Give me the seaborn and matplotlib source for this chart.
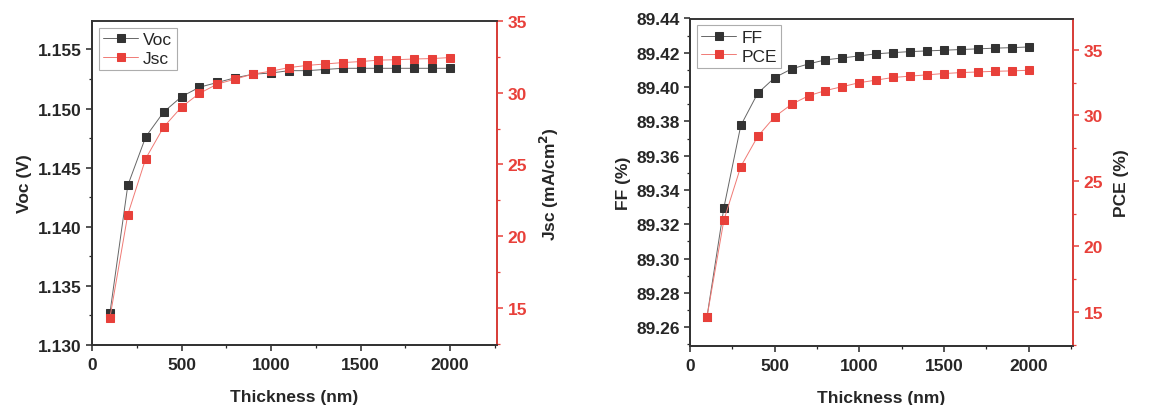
import matplotlib
matplotlib.use("Agg")
import matplotlib.pyplot as plt
import seaborn as sns
import pandas as pd
from matplotlib.ticker import AutoMinorLocator, MultipleLocator

thickness = [100, 200, 300, 400, 500, 600, 700, 800, 900, 1000,
             1100, 1200, 1300, 1400, 1500, 1600, 1700, 1800, 1900, 2000]
voc = [1.1327, 1.1435, 1.1476, 1.1497, 1.1510, 1.1518, 1.1522, 1.1526, 1.1529, 1.1530,
       1.1532, 1.1532, 1.1533, 1.1534, 1.1534, 1.1534, 1.1534, 1.1534, 1.1534, 1.1534]
jsc = [14.3, 21.5, 25.4, 27.6, 29.0, 29.95, 30.6, 30.95, 31.3, 31.5,
       31.75, 31.9, 32.0, 32.1, 32.17, 32.27, 32.3, 32.35, 32.38, 32.45]
ff = [89.2658, 89.3296, 89.3776, 89.3964, 89.4055, 89.4106, 89.4135, 89.4159, 89.4170, 89.4182,
      89.4194, 89.4201, 89.4207, 89.4211, 89.4215, 89.4219, 89.4223, 89.4227, 89.4230, 89.4234]
pce = [14.6, 22.0, 26.1, 28.4, 29.9, 30.85, 31.5, 31.9, 32.2, 32.5,
       32.7, 32.9, 33.0, 33.1, 33.2, 33.27, 33.32, 33.37, 33.4, 33.45]

df = pd.DataFrame({"Thickness": thickness, "Voc": voc, "Jsc": jsc, "FF": ff, "PCE": pce})

sns.set_theme(style="ticks")
plt.rcParams["font.family"] = ["Liberation Sans", "DejaVu Sans"]
plt.rcParams["font.weight"] = "bold"
plt.rcParams["xtick.direction"] = "out"
plt.rcParams["ytick.direction"] = "out"

BLACK = "#333333"
RED = "#e8403a"
FS = 12.5

fig = plt.figure(figsize=(11.56, 4.06), dpi=100)


def panel(rect, left_col, right_col, left_label, right_label, ylim_l, ylim_r,
          lstep, lfmt, rticks):
    ax = fig.add_axes(rect)
    ax2 = ax.twinx()
    sns.lineplot(data=df, x="Thickness", y=left_col, ax=ax, color=BLACK,
                 marker="s", markersize=6, markeredgecolor=BLACK,
                 markerfacecolor=BLACK, lw=0.7, alpha=1.0,
                 label=left_col, legend=False)
    sns.lineplot(data=df, x="Thickness", y=right_col, ax=ax2, color=RED,
                 marker="s", markersize=6, markeredgecolor=RED,
                 markerfacecolor=RED, lw=0.7,
                 label=right_col, legend=False)
    for line in ax.lines + ax2.lines:
        line.set_color(line.get_color())
    ax.lines[0].set_color("#666666")
    ax.lines[0].set_markerfacecolor(BLACK)
    ax.lines[0].set_markeredgecolor(BLACK)
    ax2.lines[0].set_color("#f07a75")
    ax2.lines[0].set_markerfacecolor(RED)
    ax2.lines[0].set_markeredgecolor(RED)

    ax.set_xlim(0, 2262)
    ax.set_ylim(*ylim_l)
    ax2.set_ylim(*ylim_r)
    ax.xaxis.set_major_locator(MultipleLocator(500))
    ax.xaxis.set_minor_locator(AutoMinorLocator(2))
    ax.yaxis.set_major_locator(MultipleLocator(lstep))
    ax.yaxis.set_minor_locator(AutoMinorLocator(2))
    ax2.set_yticks(rticks)
    ax2.yaxis.set_minor_locator(AutoMinorLocator(2))
    ax.yaxis.set_major_formatter(lfmt)

    ax.set_xlabel("Thickness (nm)", fontsize=FS, fontweight="bold", labelpad=12)
    ax.set_ylabel(left_label, fontsize=FS, fontweight="bold")
    ax2.set_ylabel(right_label, fontsize=FS, fontweight="bold", labelpad=8)

    for a in (ax, ax2):
        for s in a.spines.values():
            s.set_linewidth(1.3)
            s.set_color(BLACK)
            s.set_visible(True)
        a.tick_params(which="major", length=4, width=1.1, labelsize=FS)
        a.tick_params(which="minor", length=2.5, width=0.9)
    ax.tick_params(axis="x", pad=5)
    ax.spines["top"].set_color("#777777")
    ax2.spines["right"].set_color(RED)
    ax2.tick_params(axis="y", which="both", colors=RED, labelcolor=RED)
    for t in ax.get_xticklabels() + ax.get_yticklabels() + ax2.get_yticklabels():
        t.set_fontweight("bold")

    h1, l1 = ax.get_legend_handles_labels()
    h2, l2 = ax2.get_legend_handles_labels()
    leg = ax2.legend(h1 + h2, l1 + l2, loc="upper left", fontsize=FS,
                     frameon=True, fancybox=False, edgecolor="#999999",
                     borderpad=0.25, handlelength=2.0, handletextpad=0.3,
                     labelspacing=0.2, borderaxespad=0.4)
    leg.get_frame().set_linewidth(0.8)
    for t in leg.get_texts():
        t.set_fontweight("normal")
    return ax, ax2


panel([92 / 1156, 60 / 406, 405 / 1156, 324 / 406], "Voc", "Jsc",
      "Voc (V)", "Jsc (mA/cm$^2$)", (1.130, 1.1574), (12.4, 35),
      0.005, "{x:.3f}", [15, 20, 25, 30, 35])
panel([690 / 1156, 59 / 406, 383 / 1156, 327.5 / 406], "FF", "PCE",
      "FF (%)", "PCE (%)", (89.249, 89.44), (12.4, 37.4),
      0.02, "{x:.2f}", [15, 20, 25, 30, 35])

fig.savefig("out.png", dpi=100)
